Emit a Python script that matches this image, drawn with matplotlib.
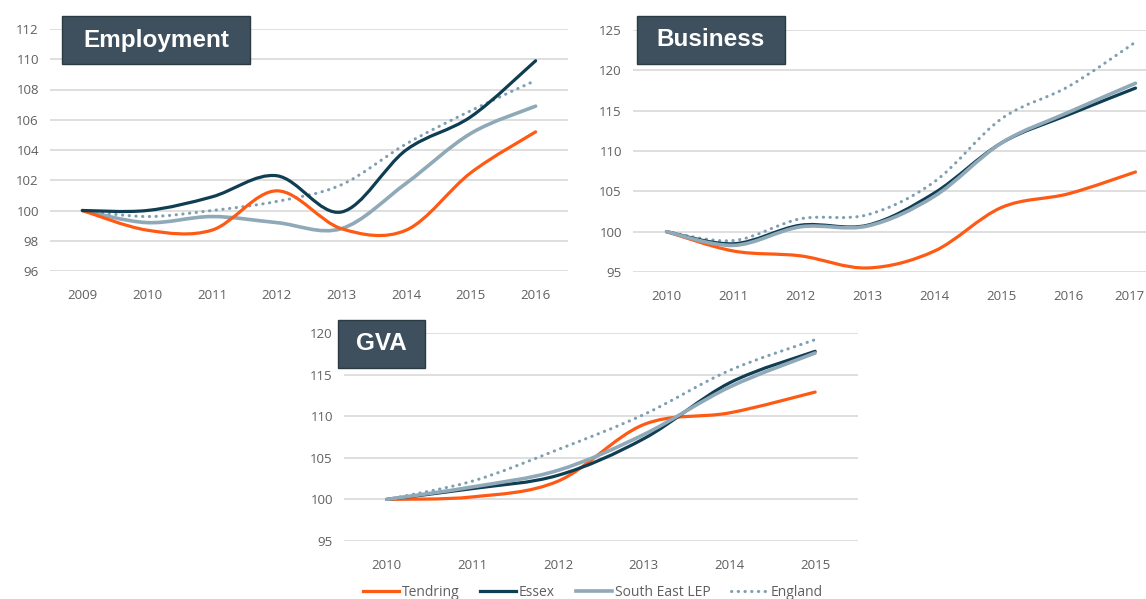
import matplotlib
matplotlib.use("Agg")
from matplotlib import pyplot as plt
from matplotlib.path import Path
from matplotlib.patches import PathPatch, Rectangle
from matplotlib.lines import Line2D
from matplotlib.transforms import offset_copy

plt.rcParams['font.family'] = ['Open Sans', 'DejaVu Sans']

# ---------- data ----------
emp_years = [2009, 2010, 2011, 2012, 2013, 2014, 2015, 2016]
emp_tendring = [100, 98.7, 98.7, 101.3, 98.8, 98.7, 102.5, 105.2]
emp_essex = [100, 100.0, 100.9, 102.3, 99.9, 104.0, 106.2, 109.9]
emp_selep = [100, 99.2, 99.6, 99.2, 98.8, 101.8, 105.1, 106.9]
emp_england = [100, 99.6, 100.0, 100.6, 101.7, 104.4, 106.6, 108.6]

bus_years = [2010, 2011, 2012, 2013, 2014, 2015, 2016, 2017]
bus_tendring = [100, 97.6, 97.0, 95.5, 97.6, 103.0, 104.7, 107.4]
bus_essex = [100, 98.5, 100.8, 100.8, 104.8, 111.0, 114.5, 117.8]
bus_selep = [100, 98.3, 100.6, 100.7, 104.4, 111.0, 114.8, 118.4]
bus_england = [100, 98.9, 101.6, 102.1, 106.2, 114.0, 118.0, 123.5]

gva_years = [2010, 2011, 2012, 2013, 2014, 2015]
gva_tendring = [100, 100.3, 102.2, 109.0, 110.4, 112.9]
gva_essex = [100, 101.3, 102.9, 107.3, 114.0, 117.8]
gva_selep = [100, 101.5, 103.5, 107.8, 113.5, 117.6]
gva_england = [100, 102.2, 106.0, 110.2, 115.5, 119.2]

series_names = ['Tendring', 'Essex', 'South East LEP', 'England']

# ---------- styles ----------
C_TEND = '#FF5A14'
C_ESSEX = '#0F3D52'
C_SELEP = '#8FA9B8'
C_ENG = '#7F9FB0'
BOX = '#3E505E'
GRID = '#D9D9D9'
TICK = '#5F5F5F'

W, H = 1146, 599


def smooth_path(xs, ys):
    # excel style smoothed line, drawn as cubic bezier segments
    verts = [(xs[0], ys[0])]
    codes = [Path.MOVETO]
    n = len(xs)
    for i in range(n - 1):
        x0, y0 = xs[max(i - 1, 0)], ys[max(i - 1, 0)]
        x1, y1 = xs[i], ys[i]
        x2, y2 = xs[i + 1], ys[i + 1]
        x3, y3 = xs[min(i + 2, n - 1)], ys[min(i + 2, n - 1)]
        c1 = (x1 + (x2 - x0) / 6, y1 + (y2 - y0) / 6)
        c2 = (x2 - (x3 - x1) / 6, y2 - (y3 - y1) / 6)
        verts += [c1, c2, (x2, y2)]
        codes += [Path.CURVE4] * 3
    return Path(verts, codes)


def draw_series(ax, xs, ys, color, dotted=False, lw=2.3):
    if dotted:
        patch = PathPatch(smooth_path(xs, ys), fill=False, edgecolor=color, lw=2.2,
                          linestyle=(0, (0.1, 2.1)), capstyle='round', zorder=3)
    else:
        patch = PathPatch(smooth_path(xs, ys), fill=False, edgecolor=color, lw=lw,
                          capstyle='round', joinstyle='round', zorder=3)
    ax.add_patch(patch)


def make_axes(px_left, px_top, px_right, px_bottom):
    return fig.add_axes([px_left / W, 1 - px_bottom / H,
                         (px_right - px_left) / W, (px_bottom - px_top) / H])


def style_axes(ax, years, yticks):
    ax.set_xlim(years[0] - 0.5, years[-1] + 0.5)
    ax.set_ylim(yticks[0], yticks[-1])
    ax.set_xticks(years)
    ax.set_xticklabels([str(y) for y in years])
    ax.set_yticks(yticks)
    ax.grid(axis='y', color=GRID, lw=1.2)
    ax.set_axisbelow(True)
    for s in ax.spines.values():
        s.set_visible(False)
    ax.tick_params(length=0, labelsize=9.5, labelcolor=TICK)
    ax.tick_params(axis='x', pad=13)
    ax.tick_params(axis='y', pad=8)
    ax.patch.set_alpha(0)


def title_box(px_left, px_top, px_right, px_bottom, text):
    fig.patches.append(Rectangle((px_left / W, 1 - px_bottom / H),
                                 (px_right - px_left) / W, (px_bottom - px_top) / H,
                                 transform=fig.transFigure, facecolor=BOX,
                                 edgecolor='#2C3A44', lw=1, zorder=10))
    fig.text((px_left + px_right) / 2 / W, 1 - (px_top + px_bottom) / 2 / H, text,
             ha='center', va='center', color='white', fontsize=17.5, fontweight='bold',
             family=['Liberation Sans', 'DejaVu Sans'], zorder=11)


fig = plt.figure(figsize=(11.46, 5.99), dpi=100)

# Employment
ax1 = make_axes(50, 29, 568, 271)
style_axes(ax1, emp_years, list(range(96, 113, 2)))
draw_series(ax1, emp_years, emp_selep, C_SELEP, lw=2.6)
draw_series(ax1, emp_years, emp_england, C_ENG, dotted=True)
draw_series(ax1, emp_years, emp_tendring, C_TEND)
draw_series(ax1, emp_years, emp_essex, C_ESSEX)

# Business
ax2 = make_axes(633, 30, 1169, 272)
style_axes(ax2, bus_years, list(range(95, 126, 5)))
draw_series(ax2, bus_years, bus_england, C_ENG, dotted=True)
draw_series(ax2, bus_years, bus_tendring, C_TEND)
draw_series(ax2, bus_years, bus_essex, C_ESSEX)
draw_series(ax2, bus_years, bus_selep, C_SELEP, lw=2.6)
# last year label sits against the right edge of the picture
last = ax2.get_xticklabels()[-1]
last.set_horizontalalignment('right')
last.set_transform(offset_copy(last.get_transform(), fig=fig, x=9, units='dots'))

# GVA
ax3 = make_axes(344, 333, 858, 541)
style_axes(ax3, gva_years, list(range(95, 121, 5)))
draw_series(ax3, gva_years, gva_england, C_ENG, dotted=True)
draw_series(ax3, gva_years, gva_tendring, C_TEND)
draw_series(ax3, gva_years, gva_essex, C_ESSEX)
draw_series(ax3, gva_years, gva_selep, C_SELEP, lw=2.6)

title_box(62, 16, 250, 64, 'Employment')
title_box(637, 16, 785, 64, 'Business')
title_box(338, 320, 425, 368, 'GVA')

handles = [Line2D([], [], color=C_TEND, lw=2.3),
           Line2D([], [], color=C_ESSEX, lw=2.3),
           Line2D([], [], color=C_SELEP, lw=2.6),
           Line2D([], [], color=C_ENG, lw=2.2, linestyle=(0, (0.1, 2.1)),
                  dash_capstyle='round')]
fig.legend(handles, series_names, loc='center', bbox_to_anchor=(0.517, 1 - 592 / H),
           ncol=4, frameon=False, fontsize=10, labelcolor=TICK, handlelength=2.6,
           handletextpad=0.2, columnspacing=1.5)

fig.savefig('out.png', dpi=100)
